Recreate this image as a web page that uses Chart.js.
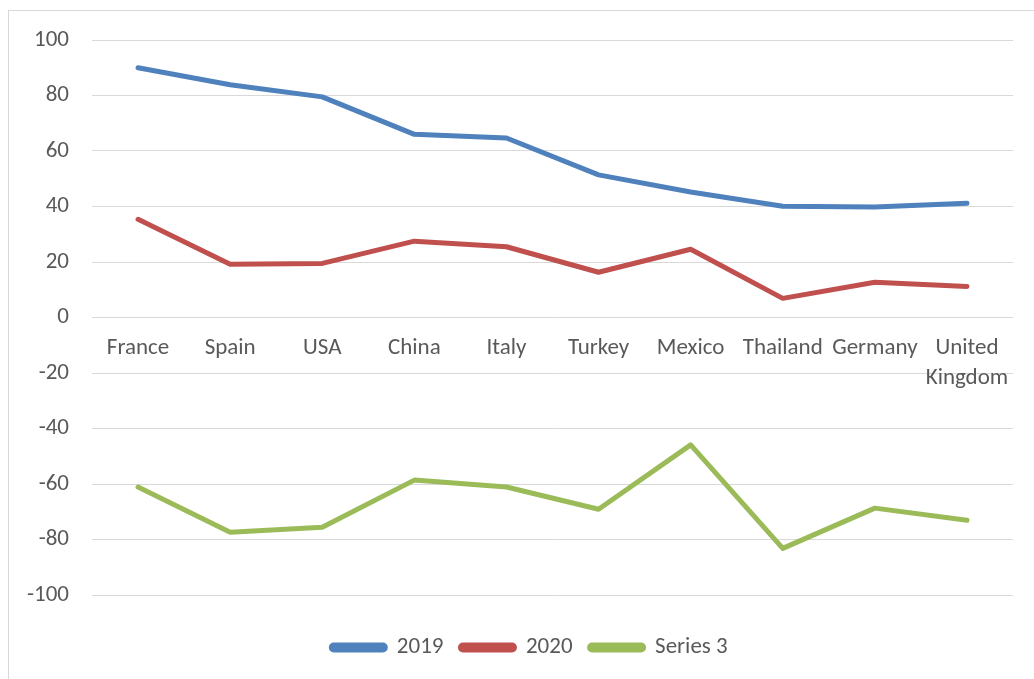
<!DOCTYPE html>
<html>
<head>
<meta charset="utf-8">
<script src="https://cdn.jsdelivr.net/npm/chart.js@4"></script>
<style>
  html, body { margin: 0; padding: 0; background: #fff; }
  #wrap { position: relative; width: 1034px; height: 679px; overflow: hidden; }
  #frame { position: absolute; left: 8px; top: 10px; width: 1100px; height: 800px;
           border: 1px solid #d9d9d9; box-sizing: border-box; }
  #cv { position: absolute; left: 0; top: 0; }
</style>
</head>
<body>
<div id="wrap">
  <div id="frame"></div>
  <canvas id="cv" width="1034" height="679"></canvas>
</div>
<script>
const countries = ['France', 'Spain', 'USA', 'China', 'Italy', 'Turkey', 'Mexico', 'Thailand', 'Germany', ['United', 'Kingdom']];
const values2019 = [90, 83.9, 79.5, 66, 64.7, 51.4, 45.2, 40.1, 39.8, 41.2];
const values2020 = [35.4, 19.2, 19.5, 27.5, 25.5, 16.3, 24.6, 6.9, 12.7, 11.2];
const series3 = [-61.1, -77.4, -75.6, -58.6, -61.1, -69.1, -45.9, -83.2, -68.7, -73.1];
const yTicks = [-100, -80, -60, -40, -20, 0, 20, 40, 60, 80, 100];

const fontFamily = "Carlito, Lato, 'Open Sans', sans-serif";
const textColor = '#595959';

function line(label, data, color) {
    return {
        label: label,
        data: data,
        borderColor: color,
        backgroundColor: color,
        borderWidth: 5,
        pointRadius: 0,
        tension: 0,
        borderJoinStyle: 'round',
        borderCapStyle: 'round'
    };
}

// the reference legend sits a bit right of centre
const legendShift = {
    id: 'legendShift',
    afterLayout(chart) {
        chart.legend.left += 23;
        chart.legend.right += 23;
    }
};

var ctx = document.getElementById('cv').getContext('2d');
var chart = new Chart(ctx, {
    type: 'line',
    data: {
        labels: countries,
        datasets: [
            line('2019', values2019, '#4f81bd'),
            line('2020', values2020, '#c0504d'),
            line('Series 3', series3, '#9bbb59')
        ]
    },
    plugins: [legendShift],
    options: {
        responsive: false,
        animation: false,
        layout: { padding: { top: 40, right: 21, bottom: 10, left: 0 } },
        plugins: {
            tooltip: { enabled: false },
            legend: {
                position: 'bottom',
                title: { display: true, text: '', padding: 0, font: { size: 24, lineHeight: 1 } },
                labels: {
                    boxWidth: 54,
                    boxHeight: 5,
                    useBorderRadius: true,
                    borderRadius: 2.5,
                    padding: 17,
                    color: textColor,
                    font: { family: fontFamily, size: 23 }
                }
            }
        },
        scales: {
            x: {
                position: { y: 0 },
                offset: true,
                grid: { display: false },
                border: { display: false },
                ticks: {
                    color: textColor,
                    padding: 8,
                    maxRotation: 0,
                    autoSkip: false,
                    font: { family: fontFamily, size: 23, lineHeight: 1.3 }
                }
            },
            y: {
                min: -100,
                max: 100,
                afterFit: function(scale) { scale.width = 92; },
                afterBuildTicks: function(scale) { scale.ticks = yTicks.map(v => ({ value: v })); },
                grid: { color: '#d9d9d9', lineWidth: 1, drawTicks: false },
                border: { display: false },
                ticks: {
                    color: textColor,
                    padding: 23,
                    font: { family: fontFamily, size: 23 }
                }
            }
        }
    }
});
</script>
</body>
</html>
